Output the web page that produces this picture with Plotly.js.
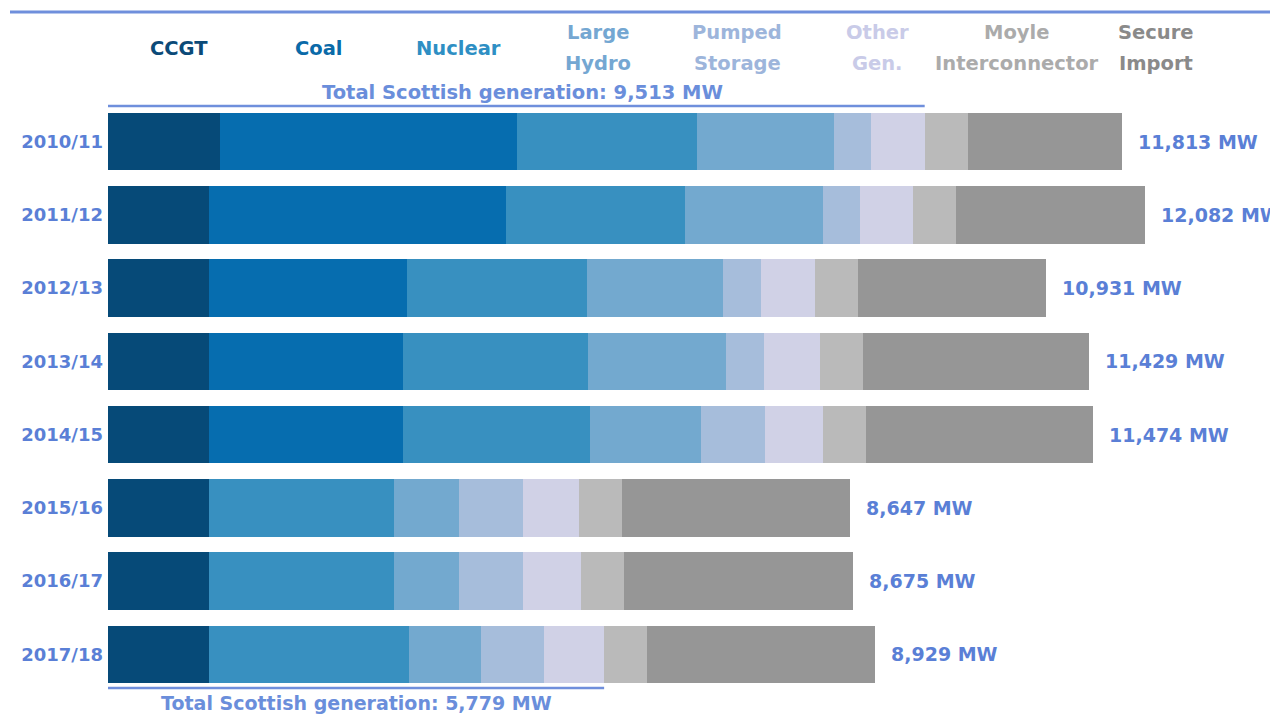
<!DOCTYPE html>
<html>
<head>
<meta charset="utf-8">
<script src="https://cdn.plot.ly/plotly-3.0.1.min.js"></script>
<style>
  html, body { margin: 0; padding: 0; background: #ffffff; }
  #chart { width: 1270px; height: 715px; }
</style>
</head>
<body>
<div id="chart"></div>
<script>
// ---- data (MW) ----
const years = ['2010/11', '2011/12', '2012/13', '2013/14', '2014/15', '2015/16', '2016/17', '2017/18'];
const ccgt       = [1305, 1180, 1180, 1180, 1180, 1180, 1180, 1180];
const coal       = [3456, 3456, 2304, 2260, 2260, 0, 0, 0];
const nuclear    = [2100, 2090, 2090, 2150, 2170, 2150, 2150, 2330];
const largeHydro = [1590, 1600, 1590, 1610, 1300, 760, 760, 830];
const pumped     = [440, 430, 440, 440, 740, 740, 740, 740];
const otherGen   = [622, 626, 627, 650, 680, 657, 685, 699];
const moyle      = [500, 500, 500, 500, 500, 500, 500, 500];
const secure     = [1800, 2200, 2200, 2639, 2644, 2660, 2660, 2650];

const seriesNames = ['CCGT', 'Coal', 'Nuclear', 'Large Hydro', 'Pumped Storage', 'Other Gen.', 'Moyle Interconnector', 'Secure Import'];
const legendLines = [['CCGT'], ['Coal'], ['Nuclear'], ['Large', 'Hydro'], ['Pumped', 'Storage'], ['Other', 'Gen.'], ['Moyle', 'Interconnector'], ['Secure', 'Import']];
const seriesValues = [ccgt, coal, nuclear, largeHydro, pumped, otherGen, moyle, secure];
const seriesColors = ['#064a78', '#066daf', '#3890c0', '#73a9cf', '#a6bddb', '#d0d1e6', '#bababa', '#969696'];
const legendTextColors = ['#0b4a78', '#0a6aa8', '#2e8fc4', '#74a7d2', '#9db5db', '#c9cbe8', '#ababab', '#8a8a8a'];

// ---- styling ----
const FONT = 'DejaVu Sans';
const BLUE = '#5a7fd6';
const BLUE_LIGHT = '#6a8edb';
const W = 1270, H = 715;
const M = { l: 108, r: 2, t: 105, b: 24 };
const plotW = W - M.l - M.r, plotH = H - M.t - M.b;
const pxPerMW = 0.08585;
const xMax = plotW / pxPerMW;

const px2paperX = p => (p - M.l) / plotW;
const px2paperY = p => 1 + (M.t - p) / plotH;

// ---- traces ----
const traces = seriesNames.map((name, i) => ({
  type: 'bar',
  orientation: 'h',
  name: name,
  y: years,
  x: seriesValues[i],
  marker: { color: seriesColors[i], line: { width: 0 } },
  hoverinfo: 'x+name'
}));

// totals
const totals = years.map((_, r) => seriesValues.reduce((s, arr) => s + arr[r], 0));
const fmt = v => v.toLocaleString('en-US');

const annotations = [];
years.forEach((y, r) => {
  annotations.push({
    x: totals[r], y: y, xref: 'x', yref: 'y',
    text: fmt(totals[r]) + ' MW',
    showarrow: false, xanchor: 'left', yanchor: 'middle', xshift: 14,
    font: { family: FONT, size: 19, color: BLUE, weight: 'bold' }
  });
});

// legend-like coloured labels
legendLines.forEach((lines, i) => {
  const cx = 179 + 139.6 * i;
  const ys = lines.length === 1 ? [48] : [32, 64];
  lines.forEach((t, k) => {
    annotations.push({
      x: px2paperX(cx), y: px2paperY(ys[k]), xref: 'paper', yref: 'paper',
      text: t, showarrow: false, xanchor: 'center', yanchor: 'middle',
      font: { family: FONT, size: 19.5, color: legendTextColors[i], weight: 'bold' }
    });
  });
});

// Scottish generation (first six series, i.e. excluding interconnector & import)
const scotGen = r => ccgt[r] + coal[r] + nuclear[r] + largeHydro[r] + pumped[r] + otherGen[r];
const topGen = scotGen(0), botGen = scotGen(years.length - 1);

annotations.push({
  x: topGen / 2, y: px2paperY(92), xref: 'x', yref: 'paper',
  text: 'Total Scottish generation: ' + fmt(topGen) + ' MW',
  showarrow: false, xanchor: 'center', yanchor: 'middle', xshift: 6,
  font: { family: FONT, size: 19.5, color: BLUE_LIGHT, weight: 'bold' }
});
annotations.push({
  x: botGen / 2, y: px2paperY(703), xref: 'x', yref: 'paper',
  text: 'Total Scottish generation: ' + fmt(botGen) + ' MW',
  showarrow: false, xanchor: 'center', yanchor: 'middle',
  font: { family: FONT, size: 19, color: BLUE_LIGHT, weight: 'bold' }
});

const shapes = [
  { type: 'line', xref: 'paper', yref: 'paper', x0: px2paperX(10), x1: px2paperX(1272),
    y0: px2paperY(12), y1: px2paperY(12), line: { color: '#6f8fdc', width: 3 } },
  { type: 'line', xref: 'x', yref: 'paper', x0: 0, x1: topGen,
    y0: px2paperY(106), y1: px2paperY(106), line: { color: '#6f8fdc', width: 2.5 } },
  { type: 'line', xref: 'x', yref: 'paper', x0: 0, x1: botGen,
    y0: px2paperY(688), y1: px2paperY(688), line: { color: '#6f8fdc', width: 2.5 } }
];

const layout = {
  width: W, height: H,
  margin: M,
  paper_bgcolor: '#ffffff', plot_bgcolor: '#ffffff',
  barmode: 'stack',
  bargap: 0.215,
  showlegend: false,
  font: { family: FONT },
  xaxis: { range: [0, xMax], visible: false, fixedrange: true },
  yaxis: {
    type: 'category', autorange: 'reversed',
    showgrid: false, zeroline: false, showline: false, ticks: '',
    ticklabelstandoff: 4,
    tickfont: { family: FONT, size: 18, color: BLUE, weight: 'bold' },
    fixedrange: true
  },
  annotations: annotations,
  shapes: shapes
};

Plotly.newPlot('chart', traces, layout, { displayModeBar: false, responsive: false });
</script>
</body>
</html>
